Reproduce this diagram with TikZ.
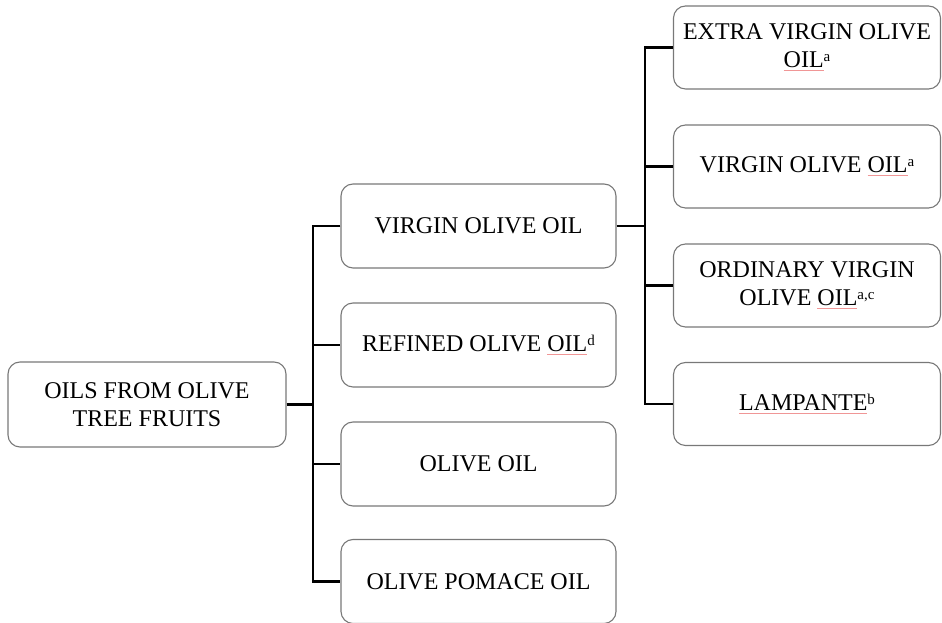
\documentclass[tikz,border=0pt]{standalone}
\usepackage{fontspec}
\setmainfont{Liberation Serif}
\definecolor{boxgray}{RGB}{120,120,120}
\definecolor{splred}{RGB}{240,150,150}
\newcommand\spl[1]{\setbox0\hbox{#1}\rlap{\textcolor{splred}{\rule[-3.5pt]{\wd0}{0.7pt}}}\box0}
\newcommand\sups[1]{\raisebox{0.55ex}{\fontsize{15}{15}\selectfont #1}}
\tikzset{
  box/.style={draw=boxgray, line width=1.1pt, rounded corners=12pt, align=center,
    font=\fontsize{24}{28}\selectfont, inner sep=2pt},
  midbox/.style={box, minimum width=275pt, minimum height=84pt},
  rbox/.style={box, minimum width=267pt, minimum height=83pt},
  conn/.style={line width=2.6pt, black}
}
\begin{document}
\begin{tikzpicture}[x=1pt,y=1pt]
\useasboundingbox (0,0) rectangle (942,623);
\node[box, minimum width=278pt, minimum height=85pt] (root) at (147,218.5) {OILS FROM OLIVE\\TREE FRUITS};
\node[midbox] (v1) at (478.5,397) {VIRGIN OLIVE OIL};
\node[midbox] (ref) at (478.5,278) {REFINED OLIVE \spl{OIL}\sups{d}};
\node[midbox] (oo) at (478.5,159) {OLIVE OIL};
\node[midbox] (pom) at (478.5,41.5) {OLIVE POMACE OIL};
\node[rbox] (evo) at (807,575.5) {EXTRA VIRGIN OLIVE\\\spl{OIL}\sups{a}};
\node[rbox] (vo) at (807,456.5) {VIRGIN OLIVE \spl{OIL}\sups{a}};
\node[rbox] (ovo) at (807,337.5) {ORDINARY VIRGIN\\OLIVE \spl{OIL}\sups{a,c}};
\node[rbox] (lam) at (807,219) {\spl{LAMPANTE}\sups{b}};
\coordinate (s1) at (313,0);
\coordinate (s2) at (645,0);
\draw[conn] (root.east) -- (root.east -| s1);
\draw[conn] (v1.west) -- (v1.west -| s1) -- (pom.west -| s1) -- (pom.west);
\draw[conn] (ref.west -| s1) -- (ref.west);
\draw[conn] (oo.west -| s1) -- (oo.west);
\draw[conn] (v1.east) -- (v1.east -| s2);
\draw[conn] (evo.west) -- (evo.west -| s2) -- (lam.west -| s2) -- (lam.west);
\draw[conn] (vo.west -| s2) -- (vo.west);
\draw[conn] (ovo.west -| s2) -- (ovo.west);
\end{tikzpicture}
\end{document}
